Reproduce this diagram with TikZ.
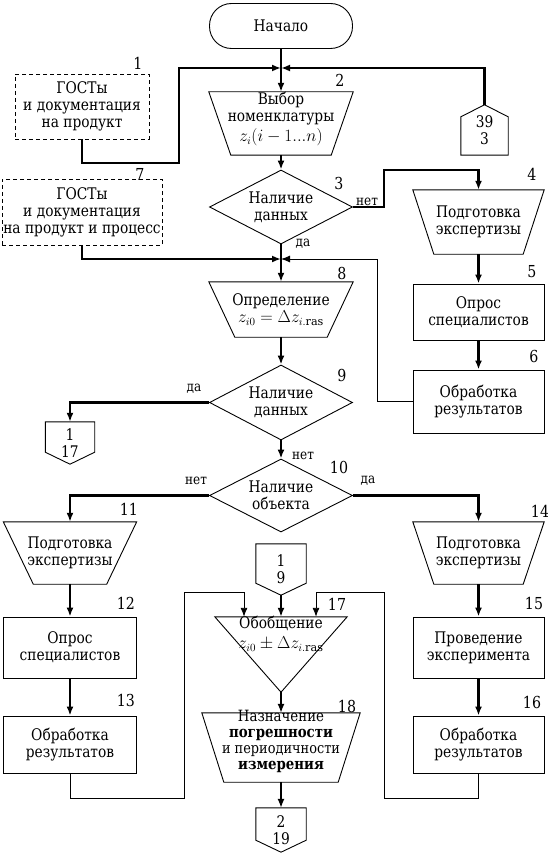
\documentclass[tikz,border=0pt]{standalone}
\usepackage{fontspec}
\setmainfont{DejaVu Serif}
\newfontfamily\tms{DejaVu Serif}[FakeStretch=0.86]
\usetikzlibrary{arrows.meta,shapes.geometric}
\begin{document}
\begin{tikzpicture}[x=1pt,y=-1pt,
  every node/.style={font=\tms\fontsize{16}{17}\selectfont, inner sep=0pt, align=center},
  shp/.style={line width=0.9pt},
  box/.style={draw, shp, rectangle},
  dbox/.style={draw, shp, rectangle, dash pattern=on 4pt off 3pt},
  dec/.style={draw, shp, diamond, aspect=1.93, minimum width=143, minimum height=74},
  arr/.style={line width=2.2pt, -{Latex[length=9pt,width=7pt]}},
  tarr/.style={line width=0.9pt, -{Latex[length=9pt,width=7pt]}},
  num/.style={font=\tms\fontsize{16.5}{17}\selectfont},
  yn/.style={font=\tms\fontsize{14}{15}\selectfont},
]
\useasboundingbox (0,0) rectangle (548,853);

% ---------- nodes ----------
\node[draw, shp, rounded corners=22pt, minimum width=143, minimum height=45] (start) at (281,26) {Начало};
\coordinate (j1) at (281,68);
\node[dbox, minimum width=134, minimum height=65] (g1) at (82,106.5) {ГОСТы\\и документация\\на продукт};

\node[minimum width=144, minimum height=63] (n2) at (281,123.5) {};
\draw[shp] (n2.north west) -- (n2.north east) -- ([xshift=-22pt]n2.south east) -- ([xshift=22pt]n2.south west) -- cycle;
\node (n2t) at (281,119) {Выбор\\номенклатуры\\[3pt]$z_i(i-1...n)$};

\node[minimum width=47, minimum height=50] (c39) at (484.5,130) {39\\3};
\draw[shp] (c39.south west) -- (c39.south east) -- ([yshift=-12pt]c39.north east) -- (c39.north) -- ([yshift=-12pt]c39.north west) -- cycle;

\node[dec] (n3) at (281,207) {Наличие\\данных};

\node[minimum width=131, minimum height=64] (n4) at (478.5,222) {Подготовка\\экспертизы};
\draw[shp] (n4.north west) -- (n4.north east) -- ([xshift=-21pt]n4.south east) -- ([xshift=21pt]n4.south west) -- cycle;

\node[dbox, minimum width=160, minimum height=66] (g7) at (82,212) {ГОСТы\\и документация\\на продукт и процесс};
\coordinate (j2) at (281,259);

\node[minimum width=144, minimum height=55] (n8) at (281,309.5) {Определение\\$z_{i0}=\Delta z_{i.\mathrm{ras}}$};
\draw[shp] (n8.north west) -- (n8.north east) -- ([xshift=-26pt]n8.south east) -- ([xshift=26pt]n8.south west) -- cycle;

\node[box, minimum width=131, minimum height=56] (b5) at (478.5,312) {Опрос\\специалистов};
\node[box, minimum width=131, minimum height=63] (b6) at (478.5,401.5) {Обработка\\результатов};

\node[dec, minimum height=75] (n9) at (281,402.5) {Наличие\\данных};

\node[minimum width=49, minimum height=42] (c117) at (70,443) {1\\17};
\draw[shp] (c117.north west) -- (c117.north east) -- ([yshift=12pt]c117.south east) -- (c117.south) -- ([yshift=12pt]c117.south west) -- cycle;

\node[dec, minimum height=73] (n10) at (281,495.5) {Наличие\\объекта};

\node[minimum width=133, minimum height=62] (n11) at (70,553) {Подготовка\\экспертизы};
\draw[shp] (n11.north west) -- (n11.north east) -- ([xshift=-30pt]n11.south east) -- ([xshift=30pt]n11.south west) -- cycle;

\node[minimum width=131, minimum height=62] (n14) at (478.5,553) {Подготовка\\экспертизы};
\draw[shp] (n14.north west) -- (n14.north east) -- ([xshift=-21pt]n14.south east) -- ([xshift=21pt]n14.south west) -- cycle;

\node[minimum width=50, minimum height=51] (c19) at (281,569.5) {1\\9};
\draw[shp] (c19.north west) -- (c19.north east) -- ([yshift=12pt]c19.south east) -- (c19.south) -- ([yshift=12pt]c19.south west) -- cycle;

\node[box, minimum width=133, minimum height=61] (b12) at (70,647.5) {Опрос\\специалистов};
\node[box, minimum width=133, minimum height=57] (b13) at (70,744.5) {Обработка\\результатов};
\node[box, minimum width=131, minimum height=61] (b15) at (478.5,647.5) {Проведение\\эксперимента};
\node[box, minimum width=131, minimum height=57] (b16) at (478.5,744.5) {Обработка\\результатов};

\node[minimum width=132, minimum height=75] (n17) at (281,654.5) {};
\draw[shp] (n17.north west) -- (n17.north east) -- (n17.south) -- cycle;
\node (n17t) at (281,634) {Обобщение\\[3pt]$z_{i0}\pm\Delta z_{i.\mathrm{ras}}$};

\node[minimum width=158, minimum height=69] (n18) at (281,747.5) {};
\draw[shp] (n18.north west) -- (n18.north east) -- ([xshift=-22pt]n18.south east) -- ([xshift=22pt]n18.south west) -- cycle;
\node[font=\tms\fontsize{15.5}{16}\selectfont] (n18t) at (281,741) {Назначение\\\textbf{погрешности}\\{\fontsize{15}{16}\selectfont и периодичности}\\\textbf{измерения}};

\node[minimum width=50, minimum height=44] (c219) at (281,830) {2\\19};
\draw[shp] (c219.north west) -- (c219.north east) -- ([yshift=12pt]c219.south east) -- (c219.south) -- ([yshift=12pt]c219.south west) -- cycle;

% ---------- numbers ----------
\node[num] (l1) at (138,63) {1};
\node[num] (l2) at (340,80) {2};
\node[num] (l3) at (339,183) {3};
\node[num] (l4) at (532,174) {4};
\node[num] (l7) at (140,174) {7};
\node[num] (l8) at (342,273) {8};
\node[num] (l5) at (532,272) {5};
\node[num] (l6) at (534,356) {6};
\node[num] (l9) at (342,375) {9};
\node[num] (l10) at (339,467) {10};
\node[num] (l11) at (129,509) {11};
\node[num] (l14) at (540,511) {14};
\node[num] (l12) at (126,603) {12};
\node[num] (l17) at (337,604) {17};
\node[num] (l15) at (534,603) {15};
\node[num] (l13) at (126,700) {13};
\node[num] (l18) at (347,706) {18};
\node[num] (l16) at (532,702) {16};

% ---------- yes / no ----------
\node[yn] (y3) at (303,244) {да};
\node[yn] (no3) at (367,202) {нет};
\node[yn] (y9) at (194,389) {да};
\node[yn] (no9) at (303,456) {нет};
\node[yn] (no10) at (196,481) {нет};
\node[yn] (y10) at (368,481) {да};

% ---------- connectors ----------
\draw[arr] (start.south) -- (n2.north);
\draw[arr] (g1.south) |- (179,163) |- (j1);
\draw[arr] (c39.north) |- (j1);
\draw[arr] (n2.south) -- (n3.north);
\draw[arr] (n3.east) -| (384,170) -| (n4.north);
\draw[arr] (n3.south) -- (n8.north);
\draw[arr] (g7.south) |- (j2);
\draw[tarr] (b6.west) -| (377,259) -- (j2);
\draw[arr] (n4.south) -- (b5.north);
\draw[arr] (b5.south) -- (b6.north);
\draw[arr] (n8.south) -- (n9.north);
\draw[arr] (n9.west) -| (c117.north);
\draw[arr] (n9.south) -- (n10.north);
\draw[arr] (n10.west) -| (n11.north);
\draw[arr] (n10.east) -| (n14.north);
\draw[arr] (n11.south) -- (b12.north);
\draw[arr] (b12.south) -- (b13.north);
\draw[arr] (n14.south) -- (b15.north);
\draw[arr] (b15.south) -- (b16.north);
\draw[arr] (c19.south) -- (n17.north);
\draw[tarr] (b13.south) |- (184,798) |- (244,592) -- (244,0 |- n17.north);
\draw[tarr] (b16.south) |- (384,798) |- (316,592) -- (316,0 |- n17.north);
\draw[tarr, line width=1.4pt] (n17.south) -- (n18.north);
\draw[tarr, line width=1.4pt] (n18.south) -- (c219.north);
\end{tikzpicture}
\end{document}
